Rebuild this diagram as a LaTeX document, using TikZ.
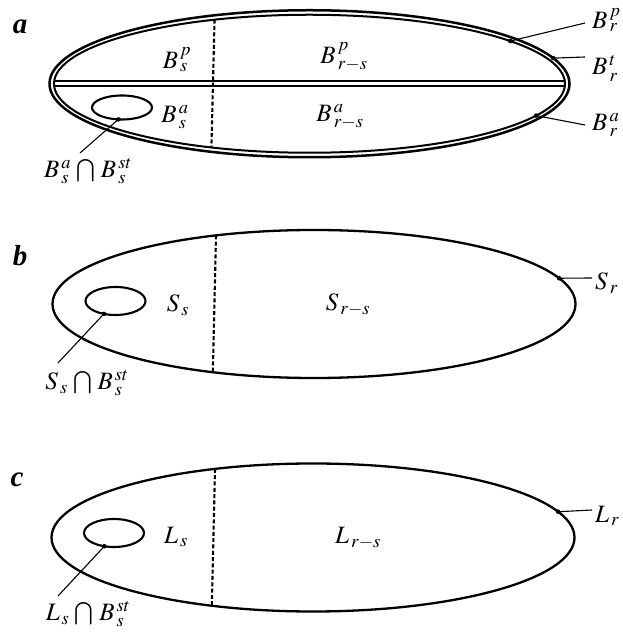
\documentclass[tikz,border=0pt]{standalone}
\usepackage{mathptmx}
\usepackage{fontspec}
\setmainfont{Liberation Serif}
\usepackage{tikz}
\usetikzlibrary{calc, shapes.geometric}

\begin{document}
\begin{tikzpicture}[
  x=1pt, y=1pt,
  font=\fontsize{25}{29}\selectfont,
  rim/.style={ellipse, draw, line width=2.3pt, inner sep=0pt, outer sep=0pt},
  hole/.style={ellipse, draw, line width=2.1pt, inner sep=0pt, outer sep=0pt,
    minimum width=60pt, minimum height=28pt},
  divider/.style={line width=2.1pt, dash pattern=on 4pt off 2.3pt},
  bar/.style={line width=2.3pt},
  leader/.style={line width=1.1pt},
  lbl/.style={inner sep=0pt},
  panel/.style={inner sep=0pt, font=\fontsize{29}{33}\selectfont\bfseries\itshape}
]
\fill[white] (0,0) rectangle (622,635);
\useasboundingbox (0,0) rectangle (622,635);

% Panel a: double rim, split by a double bar
\node[panel] (la) at (20,608) {a};
\node[rim, line width=2.5pt, minimum width=520pt, minimum height=147pt] (eaout) at (309.5,551.25) {};
\node[rim, line width=2pt, minimum width=511pt, minimum height=138pt] (eain) at (309.5,551.25) {};
\draw[bar] ($(eain.west)+(0,2.6)$) -- ($(eain.east)+(0,2.6)$);
\draw[bar] ($(eain.west)+(0,-2.6)$) -- ($(eain.east)+(0,-2.6)$);
\draw[divider] (eain.146.6) -- (eain.213.4);
\node[hole, minimum height=24pt] (ha) at (122,527.5) {};
\node[lbl] (bsp)  at (177,575) {$B^{\,p}_{\,s}$};
\node[lbl] (bsa)  at (175,518) {$B^{\,a}_{\,s}$};
\node[lbl] (brsp) at (344,578) {$B^{\,p}_{\,r-s}$};
\node[lbl] (brsa) at (340,518) {$B^{\,a}_{\,r-s}$};
\node[lbl] (bcap) at (88,464) {$B^{\,a}_{\,s}\,\bigcap\, B^{\,st}_{\,s}$};
\coordinate (ka) at (ha.253);
\coordinate (ta) at (80,482);
\fill (ka) circle (2.3pt);
\draw[leader] (ka) -- (ta);

% right-hand labels of panel a
\node[lbl, anchor=west] (brp) at (592,615) {$B^{\,p}_{\,r}$};
\node[lbl, anchor=west] (brt) at (592,566.5) {$B^{\,t}_{\,r}$};
\node[lbl, anchor=west] (bra) at (592,510) {$B^{\,a}_{\,r}$};
\coordinate (kp) at (eain.12.3);
\coordinate (kt) at (eaout.6.4);
\coordinate (kq) at (eain.-8.2);
\coordinate (tp) at (585,612);
\coordinate (tt) at (585,578);
\coordinate (tq) at (585,510);
\foreach \k/\t in {kp/tp, kt/tt, kq/tq} {
  \fill (\k) circle (2.3pt);
  \draw[leader] (\k) -- (\t);
}

% Panel b
\node[panel] (lb) at (20,379) {b};
\node[rim, minimum width=523pt, minimum height=148pt] (eb) at (314,331) {};
\draw[divider] (eb.145.4) -- (eb.214.6);
\node[hole] (hb) at (115.5,334) {};
\node[lbl] (ss)   at (178,330) {$S_{\,s}$};
\node[lbl] (srs)  at (348,330) {$S_{\,r-s}$};
\node[lbl] (scap) at (87,252) {$S_{\,s}\,\bigcap\, B^{\,st}_{\,s}$};
\node[lbl, anchor=west] (sr) at (595,352) {$S_{\,r}$};
\coordinate (kb) at (hb.228.5);
\coordinate (tb) at (58,272);
\coordinate (ksr) at (eb.6.1);
\coordinate (tsr) at (592,357);

% Panel c
\node[panel] (lc) at (17,155) {c};
\node[rim, minimum width=523pt, minimum height=148pt] (ec) at (313,97.5) {};
\draw[divider] (ec.145.8) -- (ec.214.2);
\node[hole] (hc) at (114,102) {};
\node[lbl] (ls)   at (176,98) {$L_{\,s}$};
\node[lbl] (lrs)  at (358,97) {$L_{\,r-s}$};
\node[lbl] (lcap) at (88,21) {$L_{\,s}\,\bigcap\, B^{\,st}_{\,s}$};
\node[lbl, anchor=west] (lr) at (595,119) {$L_{\,r}$};
\coordinate (kc) at (hc.234.5);
\coordinate (tc) at (58,39);
\coordinate (klr) at (ec.6.43);
\coordinate (tlr) at (592,125);

% leader lines of panels b and c
\foreach \k/\t in {kb/tb, ksr/tsr, kc/tc, klr/tlr} {
  \fill (\k) circle (2.3pt);
  \draw[leader] (\k) -- (\t);
}
\end{tikzpicture}
\end{document}
